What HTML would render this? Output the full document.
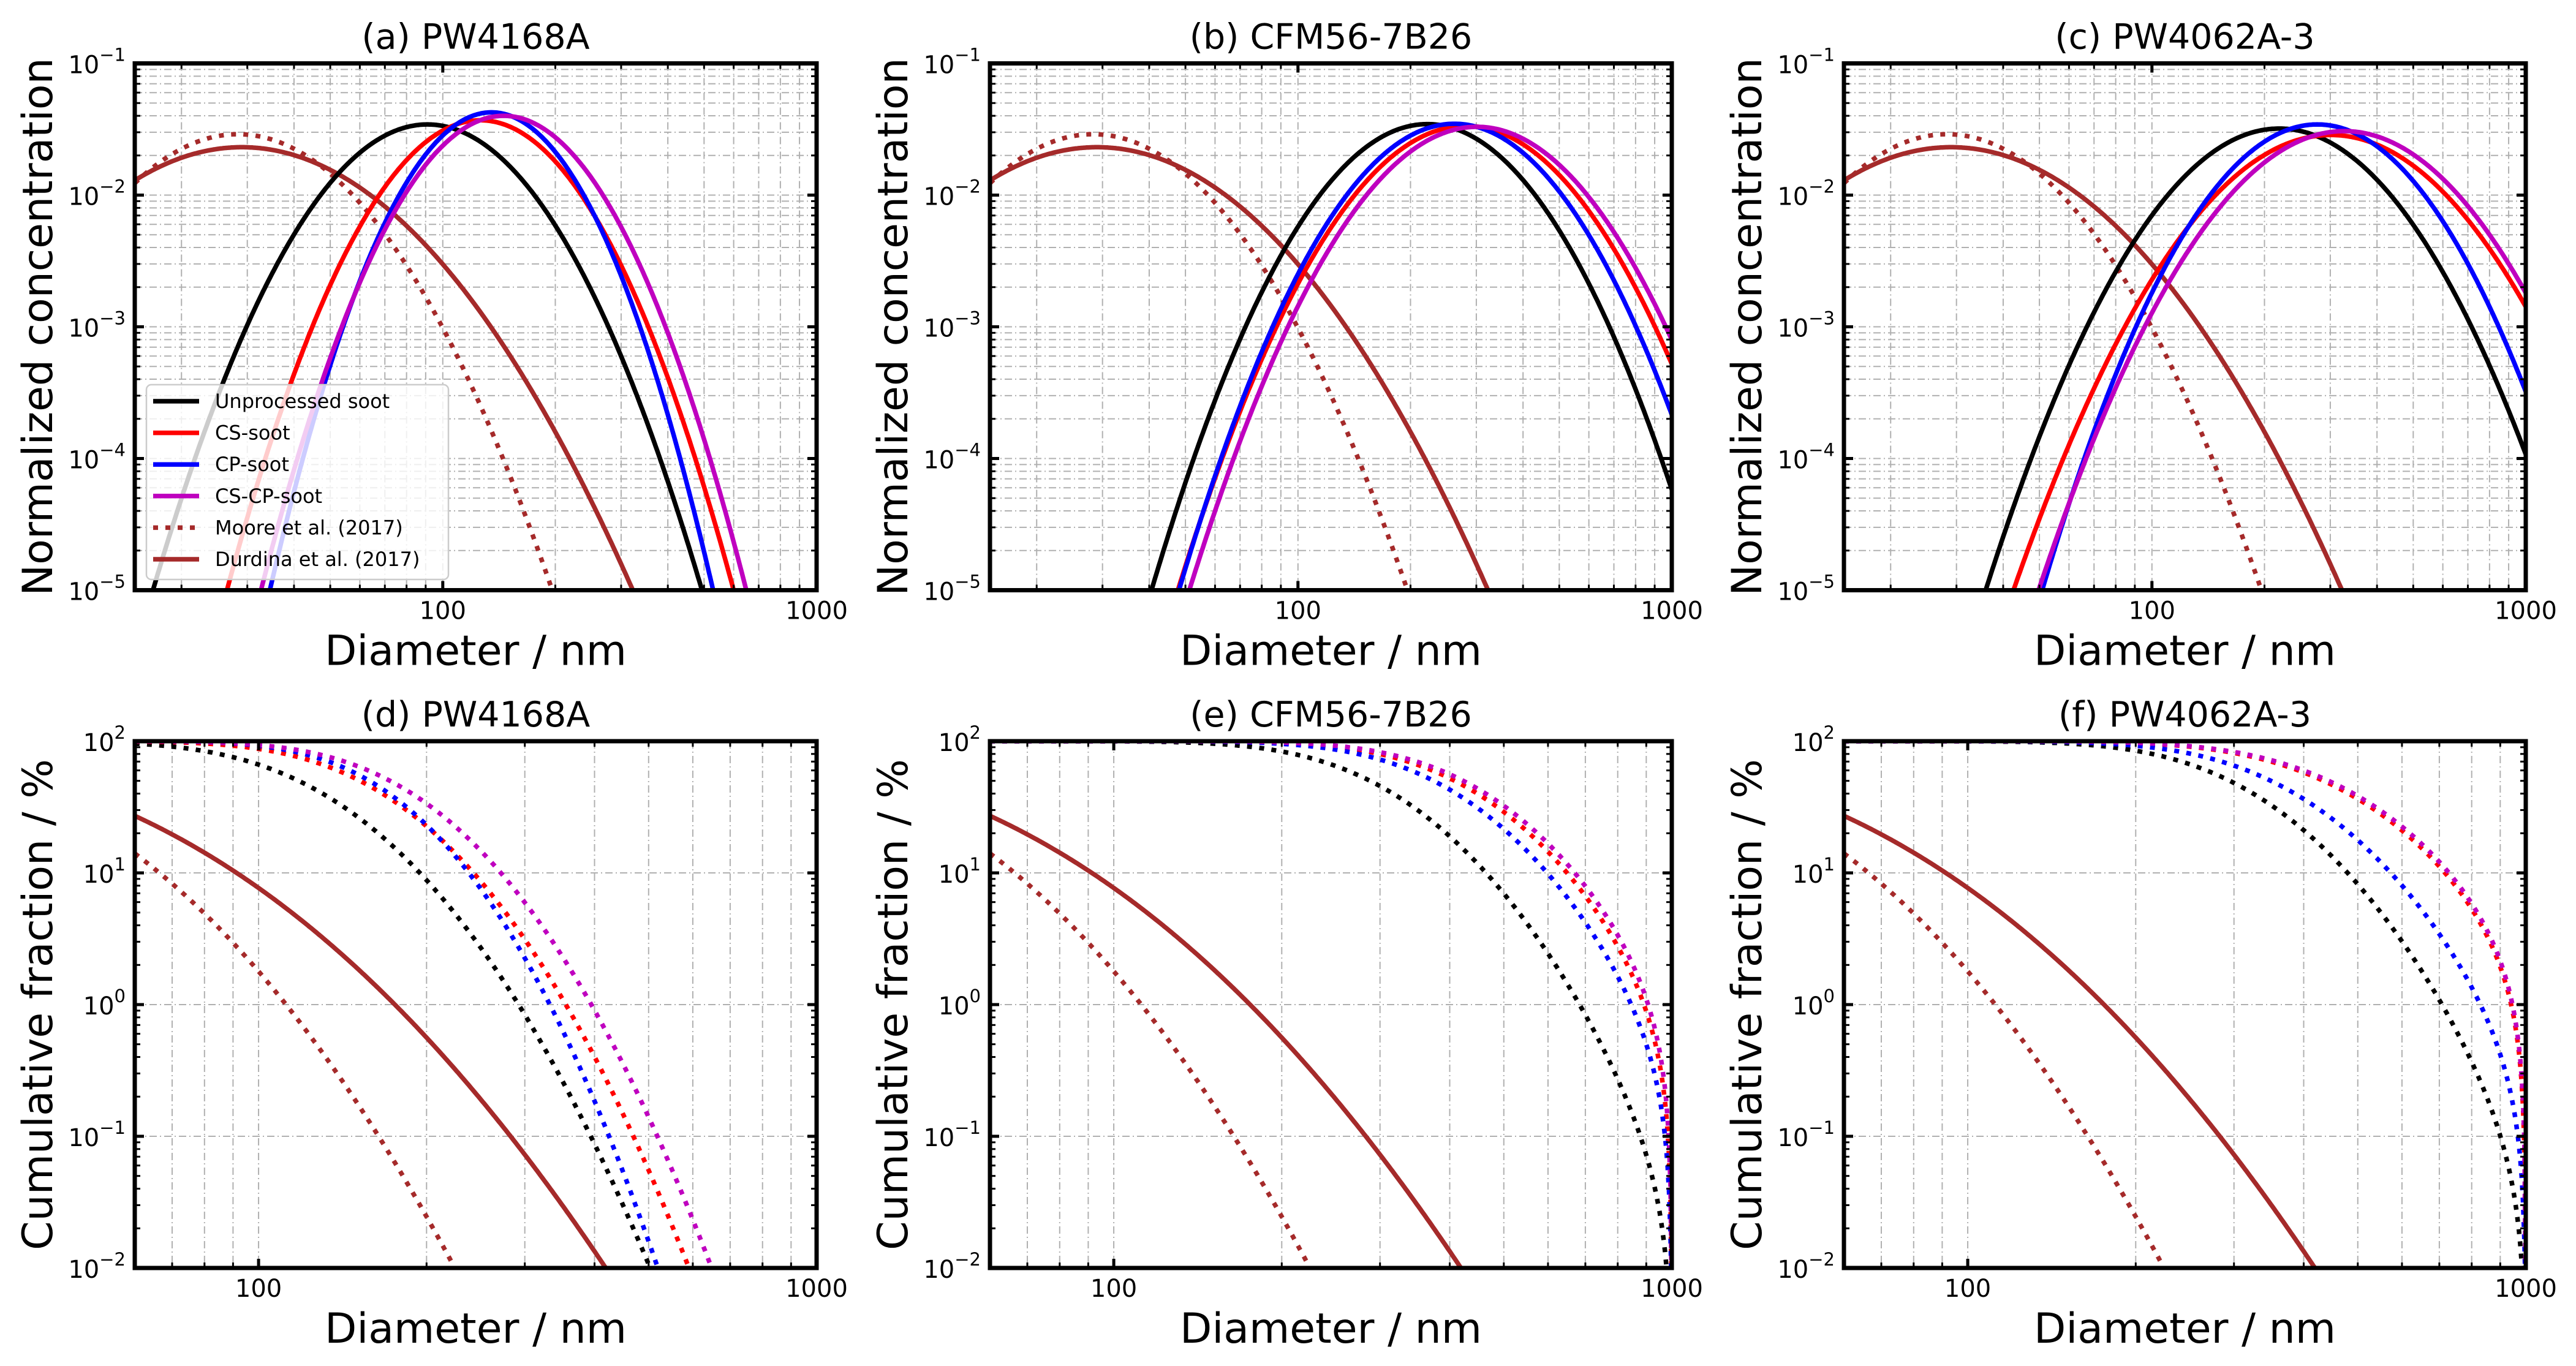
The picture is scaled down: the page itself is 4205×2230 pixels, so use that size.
<!DOCTYPE html>
<html><head><meta charset="utf-8"><style>
html,body{margin:0;padding:0;background:#fff;}
svg{display:block;font-family:"DejaVu Sans","Liberation Sans",sans-serif;}
</style></head><body>
<svg id="fig" width="4205" height="2230" viewBox="0 0 4205 2230" xmlns="http://www.w3.org/2000/svg"></svg>
<script>
const seriesNames = ['Unprocessed soot','CS-soot','CP-soot','CS-CP-soot','Moore et al. (2017)','Durdina et al. (2017)'];
const seriesColors = ['#000000','#ff0000','#0000ff','#bf00bf','#a52a2a','#a52a2a'];
const topTitles = ['(a) PW4168A','(b) CFM56-7B26','(c) PW4062A-3'];
const botTitles = ['(d) PW4168A','(e) CFM56-7B26','(f) PW4062A-3'];
// top row: lognormal size distributions (geometric mean diameter nm, ln GSD, peak value)
const topGmd = [[91,126,135,145.5,28.3,29],[222,281,262,301,28.3,29],[219,301,277,327,28.3,29]];
const topLnS = [[0.419,0.385,0.334,0.367,0.485,0.612],[0.421,0.44,0.42,0.44,0.485,0.612],[0.45,0.49,0.42,0.47,0.485,0.612]];
const topPeak = [[0.0344,0.037,0.0425,0.040,0.029,0.0231],[0.0346,0.0335,0.0348,0.033,0.029,0.0231],[0.032,0.0286,0.0344,0.0306,0.029,0.0231]];
// bottom row: cumulative fraction above D (median nm, ln width)
const botMedian = [[118,152,158,172,35,41],[288,410,375,425,35,41],[295,440,350,450,35,41]];
const botLnS = [[0.39,0.365,0.32,0.357,0.5,0.625],[0.374,0.37,0.37,0.37,0.5,0.625],[0.38,0.42,0.39,0.42,0.5,0.625]];
const topYTicks = ['-1','-2','-3','-4','-5'];
const botYTicks = ['2','1','0','-1','-2'];
const xTickLabels = ['100','1000'];

const NS='http://www.w3.org/2000/svg';
const svg=document.getElementById('fig');
function mk(tag,attrs,parent){const e=document.createElementNS(NS,tag);for(const k in attrs)e.setAttribute(k,attrs[k]);(parent||svg).appendChild(e);return e;}
const colX=[220,1616,3010], rowY=[103.5,1210], W=1113, H=860;
function erf(x){const s=x<0?-1:1;x=Math.abs(x);const t=1/(1+0.3275911*x);const y=1-(((((1.061405429*t-1.453152027)*t)+1.421413741)*t-0.284496736)*t+0.254829592)*t*Math.exp(-x*x);return s*y;}
function Phi(z){return 0.5*(1+erf(z/Math.SQRT2));}

function drawPanel(ci,ri){
  const px=colX[ci], py=rowY[ri];
  const top=ri===0;
  const xminL=top?Math.log10(15):Math.log10(60), xmaxL=3;
  const ymaxL=top?-1:2, yminL=top?-5:-2;
  const sx=d=>px+(Math.log10(d)-xminL)/(xmaxL-xminL)*W;
  const sy=v=>py+(ymaxL-Math.log10(v))/(ymaxL-yminL)*H;
  const g=mk('g',{});
  
  
  const cid='clip'+ci+ri;
  const cp=mk('clipPath',{id:cid},g);mk('rect',{x:px,y:py,width:W,height:H},cp);
  const xt=[];for(let e=1;e<=3;e++)for(let m=1;m<=9;m++){const v=m*Math.pow(10,e);if(Math.log10(v)>=xminL-1e-9&&Math.log10(v)<=3+1e-9)xt.push({v,maj:m===1});}
  const yt=[];for(let e=yminL;e<=ymaxL;e++)for(let m=1;m<=9;m++){const v=m*Math.pow(10,e);if(Math.log10(v)<=ymaxL+1e-9)yt.push({v,maj:m===1});}
  const grid=mk('g',{stroke:'#b0b0b0','stroke-width':2,'stroke-dasharray':'12 5 2 5'},g);
  
  xt.forEach(t=>{const x=sx(t.v);mk('line',{x1:x,x2:x,y1:py,y2:py+H},grid);});
  yt.forEach(t=>{if(!top&&!t.maj)return;const y=sy(t.v);mk('line',{x1:px,x2:px+W,y1:y,y2:y},grid);});
  const cg=mk('g',{'clip-path':'url(#'+cid+')',fill:'none','stroke-width':7.5},g);
  const order=[5,4,0,1,2,3];
  order.forEach(si=>{
    let pts=[];const N=500;
    for(let i=0;i<=N;i++){
      const L=xminL+(xmaxL-xminL)*i/N, d=Math.pow(10,L);
      let v;
      if(top){const s=topLnS[ci][si];const z=Math.log(d/topGmd[ci][si])/s;v=topPeak[ci][si]*Math.exp(-0.5*z*z);}
      else{const s=botLnS[ci][si],m=botMedian[ci][si];const c=Phi(Math.log(1000/m)/s);v=100*(c-Phi(Math.log(d/m)/s))/c;}
      let y=v>0?sy(v):py+H+50; if(y>py+H+50)y=py+H+50;
      pts.push(sx(d).toFixed(1)+','+y.toFixed(1));
    }
    const dotted= top? si===4 : si!==5;
    const p=mk('polyline',{points:pts.join(' '),stroke:seriesColors[si]},cg);
    if(dotted){p.setAttribute('stroke-dasharray','8 12');}
    
    
  });
  const tk=mk('g',{stroke:'#000'},g);
  xt.forEach(t=>{const x=sx(t.v),l=t.maj?15:9,w=t.maj?5:3;
    mk('line',{x1:x,x2:x,y1:py+H,y2:py+H-l,'stroke-width':w},tk);mk('line',{x1:x,x2:x,y1:py,y2:py+l,'stroke-width':w},tk);});
  yt.forEach(t=>{const y=sy(t.v),l=t.maj?15:9,w=t.maj?5:3;
    mk('line',{x1:px,x2:px+l,y1:y,y2:y,'stroke-width':w},tk);mk('line',{x1:px+W,x2:px+W-l,y1:y,y2:y,'stroke-width':w},tk);});
  const sp=mk('rect',{x:px,y:py,width:W,height:H,fill:'none',stroke:'#000','stroke-width':7},g);
  
  xTickLabels.forEach(s=>{const t=mk('text',{x:sx(+s),y:py+H+47,'font-size':40,'text-anchor':'middle'},g);t.textContent=s;
    });
  (top?topYTicks:botYTicks).forEach(s=>{const y=sy(Math.pow(10,+s));
    const t=mk('text',{x:px-15,y:y+16,'font-size':40,'text-anchor':'end'},g);
    
    t.appendChild(document.createTextNode('10'));
    const ts=mk('tspan',{'font-size':29,dy:-20},t);ts.textContent=s.replace('-','\u2212');});
  const tt=mk('text',{x:px+W/2,y:py-24,'font-size':57,'text-anchor':'middle'},g);
  tt.textContent=top?topTitles[ci]:botTitles[ci];
  const xl=mk('text',{x:px+W/2,y:py+H+122,'font-size':68,'text-anchor':'middle'},g);
  xl.textContent='Diameter / nm';
  const ycx=px-135, ycy=py+H/2;
  const yl=mk('text',{x:ycx,y:ycy,'font-size':68,'text-anchor':'middle',transform:'rotate(-90 '+ycx+' '+ycy+')'},g);
  yl.textContent=top?'Normalized concentration':'Cumulative fraction / %';
}
for(let r=0;r<2;r++)for(let c=0;c<3;c++)drawPanel(c,r);
const lg=mk('g',{});


mk('rect',{x:239,y:628,width:493,height:318,rx:8,fill:'#fff','fill-opacity':0.8,stroke:'#cccccc','stroke-width':2.5},lg);
seriesNames.forEach((n,i)=>{const y=655+i*51.6;
  const e=mk('g',{},lg);
  
  
  const l=mk('line',{x1:250,x2:325,y1:y,y2:y,stroke:seriesColors[i],'stroke-width':7.5},e);
  if(i===4)l.setAttribute('stroke-dasharray','8 12');
  const t=mk('text',{x:351,y:y+11,'font-size':32},e);t.textContent=n;});
</script>
</body></html>
